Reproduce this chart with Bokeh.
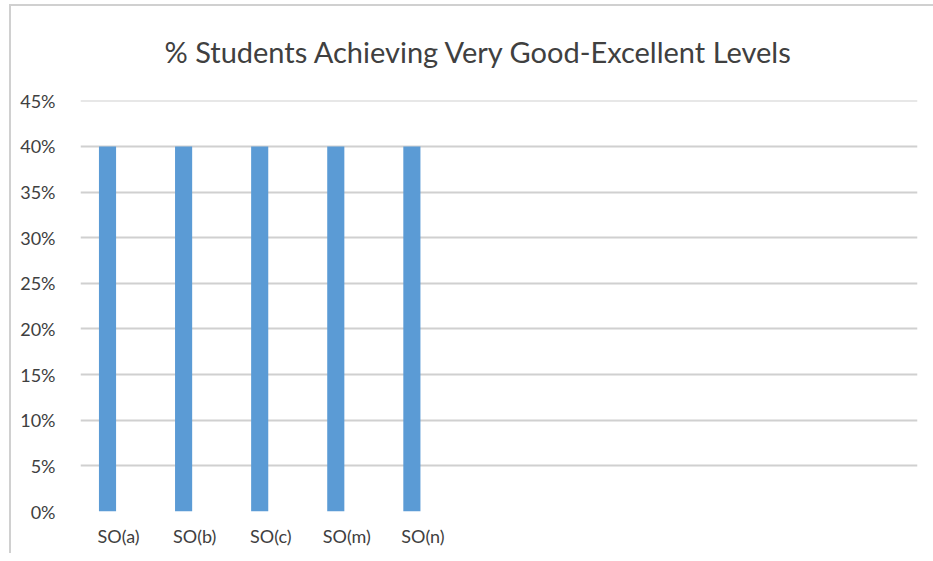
from bokeh.plotting import figure
from bokeh.models import Range1d, FixedTicker, NumeralTickFormatter, ColumnDataSource
from bokeh.transform import dodge
from bokeh.embed import file_html
from bokeh.resources import INLINE

categories = ["SO(a)", "SO(b)", "SO(c)", "SO(m)", "SO(n)"]
values = [0.40, 0.40, 0.40, 0.40, 0.40]
n_slots = 11
y_ticks = [0.0, 0.05, 0.10, 0.15, 0.20, 0.25, 0.30, 0.35, 0.40, 0.45]
title_text = "% Students Achieving Very Good-Excellent Levels"

positions = list(range(1, len(categories) + 1))
src = ColumnDataSource(dict(x=positions, top=values))

FONT = "Lato"
TXT = "#404040"

p = figure(width=933, height=553, output_backend="svg", toolbar_location=None,
           x_range=Range1d(0.5, n_slots + 0.5), y_range=Range1d(0, 0.4503),
           title=title_text)
p.min_border_left = 80
p.min_border_right = 16
p.min_border_top = 100
p.min_border_bottom = 42
p.outline_line_color = None
p.border_fill_color = None
p.background_fill_color = None
p.styles = {
    "background-color": "white",
    "background-image": "linear-gradient(#d0d0d0, #d0d0d0), linear-gradient(#d0d0d0, #d0d0d0)",
    "background-size": "2px 100%, 100% 2px",
    "background-position": "9px 4px, 9px 4px",
    "background-repeat": "no-repeat",
}

p.title.align = "left"
p.title.offset = 84
p.title.text_font = FONT
p.title.text_font_size = "29px"
p.title.text_font_style = "normal"
p.title.text_color = TXT
p.title.vertical_align = "top"
p.title.standoff = 60

p.vbar(x=dodge("x", -0.145, range=p.x_range), top="top", width=0.225, bottom=0,
       source=src, fill_color="#5b9bd5", line_color=None)

p.xgrid.grid_line_color = None
p.ygrid.grid_line_color = "#d0d0d0"
p.ygrid.grid_line_width = 2

p.yaxis.ticker = FixedTicker(ticks=y_ticks)
p.yaxis.formatter = NumeralTickFormatter(format="0%")
p.xaxis.ticker = FixedTicker(ticks=positions)
p.xaxis.major_label_overrides = {pos: c for pos, c in zip(positions, categories)}

for ax in (p.xaxis[0], p.yaxis[0]):
    ax.axis_line_color = None
    ax.major_tick_line_color = None
    ax.minor_tick_line_color = None
    ax.major_label_text_font = FONT
    ax.major_label_text_font_size = "18px"
    ax.major_label_text_color = TXT
p.yaxis.major_label_standoff = 19
p.xaxis.major_label_standoff = 7

open("out.html", "w").write(file_html(p, INLINE))
